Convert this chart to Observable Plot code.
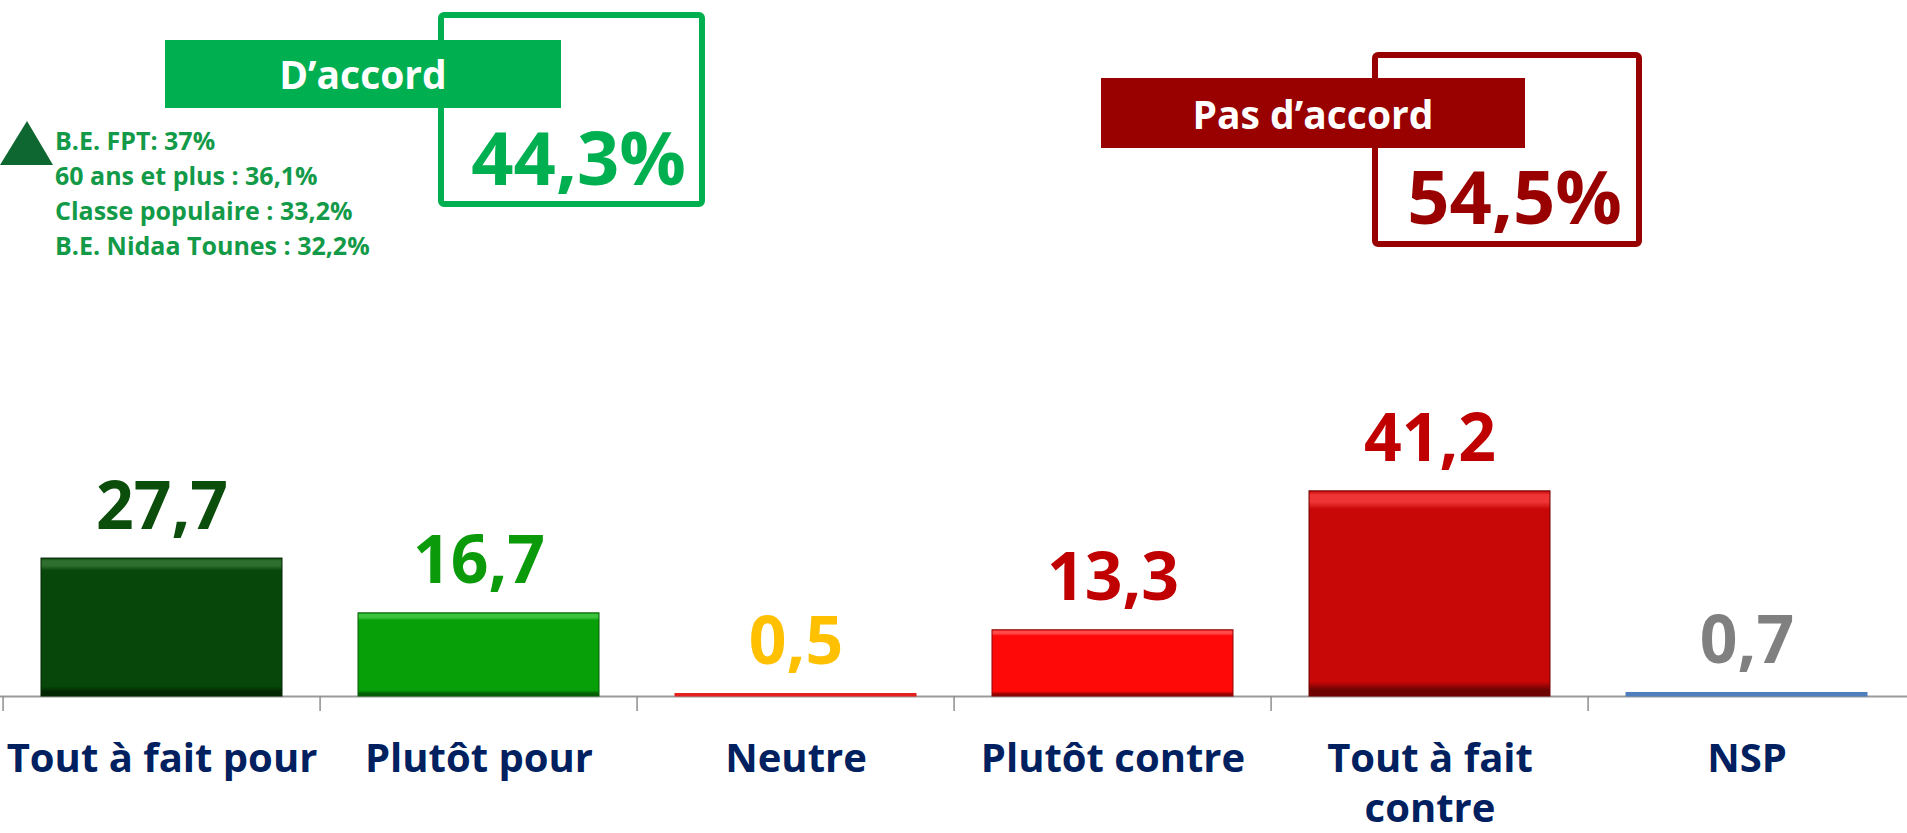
<!DOCTYPE html>
<html>
<head>
<meta charset="utf-8">
<script src="https://cdn.jsdelivr.net/npm/d3@7"></script>
<script src="https://cdn.jsdelivr.net/npm/@observablehq/plot@0.6"></script>
<style>
  html, body { margin: 0; padding: 0; background: #ffffff; }
  #chart { width: 1907px; height: 833px; overflow: hidden; }
  #chart svg { display: block; }
</style>
</head>
<body>
<div id="chart"></div>
<script>
// ---- data ----
const categories = ["Tout à fait pour", "Plutôt pour", "Neutre", "Plutôt contre", "Tout à fait contre", "NSP"];
const tickLabels = ["Tout à fait pour", "Plutôt pour", "Neutre", "Plutôt contre", "Tout à fait\ncontre", "NSP"];
const values = [27.7, 16.7, 0.5, 13.3, 41.2, 0.7];
const valueLabels = ["27,7", "16,7", "0,5", "13,3", "41,2", "0,7"];
const barColors = ["#07470A", "#08A008", "#E3211E", "#FF0808", "#C80707", "#4F7FBC"];
const barLight = ["#2E6E2F", "#3CC43C", "#E3211E", "#FF4A4A", "#EE3434", "#4F7FBC"];
const barDark = ["#022603", "#045F05", "#E3211E", "#8E0303", "#6E0303", "#4F7FBC"];
const labelColors = ["#0B4D0B", "#0A9A0A", "#FFC000", "#C00000", "#C00000", "#808080"];
const groupNames = ["D’accord", "Pas d’accord"];
const groupTotals = ["44,3%", "54,5%"];
const groupColors = ["#00B050", "#990000"];
const noteLines = ["B.E. FPT: 37%", "60 ans et plus : 36,1%", "Classe populaire : 33,2%", "B.E. Nidaa Tounes : 32,2%"];

// ---- build ----
const W = 1907, H = 833;
const FONT = "'Open Sans', 'Noto Sans', sans-serif";
const bandW = W / categories.length;
const LH = 1.25;

const rows = categories.map((c, i) => ({
  cat: c,
  value: values[i],
  label: valueLabels[i],
  tick: tickLabels[i],
  fill: values[i] > 2 ? `url(#bevel${i})` : barColors[i],
  edge: values[i] > 2 ? barDark[i] : barColors[i],
  color: labelColors[i]
}));

const plot = Plot.plot({
  width: W,
  height: H,
  marginLeft: 0,
  marginRight: 0,
  marginTop: 447,
  marginBottom: 137,
  style: { fontFamily: FONT, background: "#ffffff" },
  x: { domain: categories, padding: 0, axis: null },
  y: { domain: [0, 50], axis: null },
  color: { type: "identity" },
  marks: [
    Plot.ruleY([0], { stroke: "#9a9a9a", strokeWidth: 2 }),
    Plot.ruleX(categories, { x: d => d, dx: -bandW / 2, y1: 0, y2: 0, insetBottom: -15, stroke: "#8f8f8f", strokeWidth: 1.5 }),
    Plot.barY(rows, { x: "cat", y: "value", fill: "fill", stroke: "edge", strokeWidth: 1, insetLeft: 38, insetRight: 38 }),
    Plot.text(rows, { x: "cat", y: "value", text: "label", fill: "color", fontSize: 66, fontWeight: "bold", lineAnchor: "bottom", dy: -30 }),
    Plot.text(rows, { x: "cat", y: 0, text: "tick", fill: "#002060", fontSize: 40, fontWeight: "bold", lineAnchor: "top", lineHeight: LH, dy: 47 - 0.71 * (LH - 1) * 40 })
  ]
});

// bevel gradients
const svg = d3.select(plot);
const defs = svg.insert("defs", ":first-child");
rows.forEach((d, i) => {
  const g = defs.append("linearGradient").attr("id", `bevel${i}`)
    .attr("x1", 0).attr("y1", 0).attr("x2", 0).attr("y2", 1);
  [[0, barColors[i]], [0.02, barLight[i]], [0.055, barLight[i]], [0.09, barColors[i]],
   [0.93, barColors[i]], [0.97, barDark[i]], [1, barDark[i]]]
    .forEach(([o, c]) => g.append("stop").attr("offset", o).attr("stop-color", c));
});

// annotations (summary boxes and notes)
const ann = svg.append("g").attr("font-family", FONT).attr("font-weight", "bold").attr("text-anchor", "start");
const boxes = [
  { outline: [441, 15, 261, 189], band: [165, 40, 396, 68], nameX: 363, nameY: 89, totX: 686, totY: 185 },
  { outline: [1375, 55, 264, 189], band: [1101, 78, 424, 70], nameX: 1313, nameY: 129, totX: 1622, totY: 224 }
];
boxes.forEach((b, i) => {
  ann.append("rect").attr("x", b.outline[0]).attr("y", b.outline[1]).attr("width", b.outline[2]).attr("height", b.outline[3])
    .attr("rx", 3).attr("fill", "none").attr("stroke", groupColors[i]).attr("stroke-width", 6);
  ann.append("rect").attr("x", b.band[0]).attr("y", b.band[1]).attr("width", b.band[2]).attr("height", b.band[3])
    .attr("fill", groupColors[i]);
  ann.append("text").attr("x", b.nameX).attr("y", b.nameY).attr("text-anchor", "middle")
    .attr("fill", "#ffffff").attr("font-size", 39).text(groupNames[i]);
  ann.append("text").attr("x", b.totX).attr("y", b.totY).attr("text-anchor", "end")
    .attr("fill", groupColors[i]).attr("font-size", 74).text(groupTotals[i]);
});
ann.append("path").attr("d", "M0,165L27,121L53,165Z").attr("fill", "#0E6630");
noteLines.forEach((t, i) => {
  ann.append("text").attr("x", 55).attr("y", 150 + i * 35).attr("text-anchor", "start").attr("fill", "#139A48")
    .attr("font-size", 25).text(t);
});

document.getElementById("chart").appendChild(plot);
</script>
</body>
</html>
